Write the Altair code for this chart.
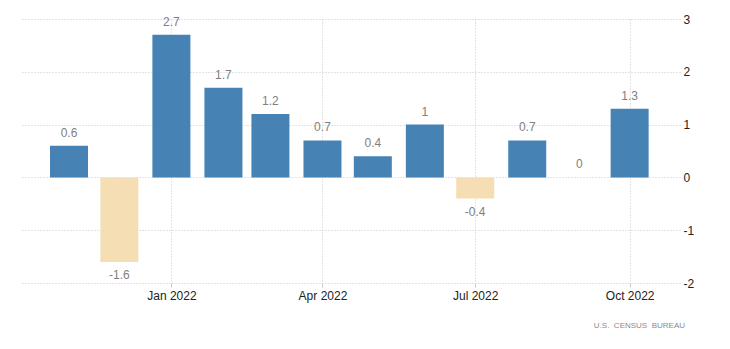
import altair as alt
import pandas as pd

months = ["2021-11-01", "2021-12-01", "2022-01-01", "2022-02-01", "2022-03-01", "2022-04-01",
          "2022-05-01", "2022-06-01", "2022-07-01", "2022-08-01", "2022-09-01", "2022-10-01"]
values = [0.6, -1.6, 2.7, 1.7, 1.2, 0.7, 0.4, 1.0, -0.4, 0.7, 0.0, 1.3]
labels = ["0.6", "-1.6", "2.7", "1.7", "1.2", "0.7", "0.4", "1", "-0.4", "0.7", "0", "1.3"]
y_ticks = [-2, -1, 0, 1, 2, 3]
source = "U.S.\u00a0\u00a0CENSUS\u00a0\u00a0BUREAU"

df = pd.DataFrame({
    "date": [m + "T00:00:00" for m in months],
    "value": values,
    "label": labels,
})

FONT = "Liberation Sans"

x_enc = alt.X(
    "date:T",
    scale=alt.Scale(domain=[alt.DateTime(year=2021, month=10, date=4),
                            alt.DateTime(year=2022, month=10, date=31)],
                    padding=0),
    axis=alt.Axis(
        values=[alt.DateTime(year=2022, month=1, date=1),
                alt.DateTime(year=2022, month=4, date=1),
                alt.DateTime(year=2022, month=7, date=1),
                alt.DateTime(year=2022, month=10, date=1)],
        format="%b %Y", title=None, domain=False,
        grid=True, gridDash=[1, 2], gridColor="#c8c8c8",
        ticks=True, tickSize=4, tickColor="#c8c8c8",
        labelFont=FONT, labelFontSize=12, labelColor="#222222", labelPadding=3,
    ),
)
y_scale = alt.Scale(domain=[-2, 3], nice=False, zero=False)
y_enc = alt.Y(
    "value:Q", scale=y_scale,
    axis=alt.Axis(
        orient="right", values=y_ticks, title=None, domain=False, ticks=False,
        grid=True, gridDash=[1, 2], gridColor="#c8c8c8",
        labelFont=FONT, labelFontSize=12, labelColor="#222222", labelPadding=3,
        labelAlign="left", labelExpr="'' + datum.value",
    ),
)

base = alt.Chart(df)

bars = base.mark_bar(size=38).encode(
    x=x_enc,
    y=y_enc,
    y2=alt.datum(0),
    color=alt.condition("datum.value >= 0", alt.value("#4682B4"), alt.value("#F5DEB3")),
)

pos_text = base.transform_filter("datum.value >= 0").mark_text(
    baseline="middle", dy=-13, font=FONT, fontSize=12, color="#808080"
).encode(x="date:T", y=alt.Y("value:Q", scale=y_scale), text="label:N")

neg_text = base.transform_filter("datum.value < 0").mark_text(
    baseline="middle", dy=13, font=FONT, fontSize=12, color="#808080"
).encode(x="date:T", y=alt.Y("value:Q", scale=y_scale), text="label:N")

src = alt.Chart(pd.DataFrame({"t": [source]})).mark_text(
    align="right", baseline="middle", font=FONT, fontSize=8, color="#8a8a8a"
).encode(x=alt.value(663), y=alt.value(307), text="t:N")

chart = alt.layer(bars, pos_text, neg_text, src).properties(
    width=658, height=264,
    padding={"left": 22, "top": 19, "right": 50, "bottom": 66},
    autosize="none",
).configure_view(stroke=None)

chart.save("out.html", embed_options={"renderer": "svg", "actions": False})
